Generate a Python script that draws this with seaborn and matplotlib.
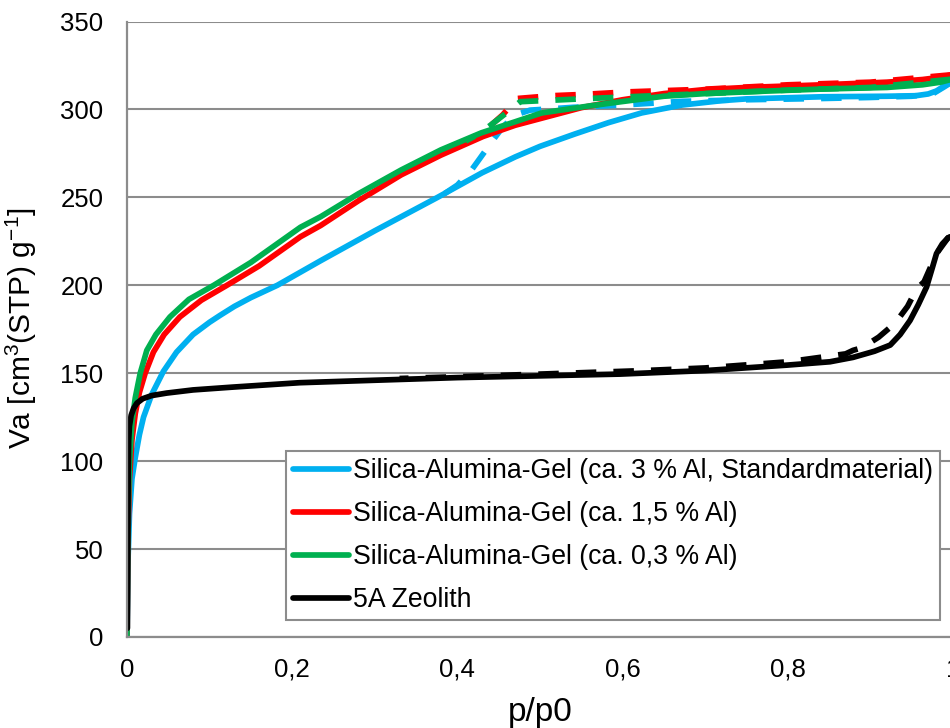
import matplotlib
matplotlib.use("Agg")
import matplotlib.pyplot as plt
from matplotlib.lines import Line2D
import pandas as pd
import seaborn as sns

# ---- isotherm data (p/p0, adsorbed volume) ----
# Silica-Alumina-Gel, ca. 3 % Al (standard material)
al3_ads_x = [0.0, 0.001, 0.003, 0.006, 0.01, 0.015, 0.02, 0.03, 0.044, 0.06, 0.08, 0.1,
             0.113, 0.13, 0.15, 0.182, 0.2345, 0.3, 0.376, 0.43, 0.47, 0.5, 0.542, 0.583,
             0.623, 0.672, 0.72, 0.75, 0.842, 0.92, 0.955, 0.97, 0.98, 0.99, 1.0]
al3_ads_y = [0, 40, 70, 90, 102, 115, 125, 138, 151, 162, 172, 179,
             183, 188, 193, 200, 214, 231, 250, 264, 273, 279, 286, 292.5,
             298, 302.5, 305, 306, 307.2, 307.5, 307.8, 308.8, 310.5, 313.5, 316]
al3_des_x = [1.0, 0.99, 0.976, 0.95, 0.9, 0.84, 0.75, 0.672, 0.6, 0.54, 0.512, 0.488,
             0.47, 0.455, 0.443, 0.427, 0.417, 0.40, 0.384]
al3_des_y = [316, 313, 309, 307.5, 306.8, 306.2, 305.5, 304.6, 302.5, 301.2, 300.3, 299.6,
             296.8, 290, 282.5, 272, 265.5, 257, 252]

# Silica-Alumina-Gel, ca. 1,5 % Al
al15_ads_x = [0.0, 0.001, 0.003, 0.006, 0.01, 0.015, 0.022, 0.032, 0.045, 0.064, 0.09,
              0.121, 0.16, 0.21, 0.2345, 0.28, 0.332, 0.38, 0.431, 0.47, 0.502, 0.55, 0.6,
              0.65, 0.7, 0.75, 0.842, 0.92, 0.963, 0.985, 1.0]
al15_ads_y = [0, 55, 90, 112, 127, 139, 150, 162, 172, 182, 191.5,
              200, 211, 227.6, 234, 248, 262.8, 274, 284.6, 291, 295, 301, 305.5,
              309, 311.3, 312.5, 314, 315.5, 317, 318.3, 319.8]
al15_des_x = [1.0, 0.9, 0.8, 0.7, 0.607, 0.55, 0.514, 0.472, 0.455, 0.431, 0.42]
al15_des_y = [319.8, 315.5, 314, 311.5, 310, 308.5, 307.8, 306.2, 297, 287, 284]

# Silica-Alumina-Gel, ca. 0,3 % Al
al03_ads_x = [0.0, 0.001, 0.003, 0.006, 0.01, 0.016, 0.024, 0.035, 0.052, 0.075, 0.105,
              0.15, 0.21, 0.2345, 0.28, 0.332, 0.38, 0.429, 0.47, 0.502, 0.56, 0.6, 0.65,
              0.7, 0.75, 0.842, 0.92, 0.963, 0.985, 1.0]
al03_ads_y = [0, 65, 100, 122, 136, 150, 163, 172, 182, 192, 200,
              213, 233, 239, 252, 265.6, 277, 286.7, 293, 298, 302, 304.5, 307.5,
              309, 310, 311.6, 312.5, 314, 315.5, 317.3]
al03_des_x = [1.0, 0.9, 0.8, 0.7, 0.607, 0.55, 0.476, 0.462, 0.44, 0.4235, 0.41]
al03_des_y = [317.3, 312.5, 311, 309, 307.2, 306, 304.4, 299, 291, 285.4, 282]

# 5A Zeolith
zeo_ads_x = [0.0005, 0.001, 0.0015, 0.002, 0.003, 0.005, 0.008, 0.012, 0.019, 0.03, 0.048,
             0.08, 0.128, 0.209, 0.3, 0.4, 0.5, 0.597, 0.7, 0.799, 0.851, 0.879, 0.905,
             0.924, 0.936, 0.948, 0.958, 0.968, 0.975, 0.98, 0.987, 0.994, 1.0]
zeo_ads_y = [5, 60, 95, 112, 120, 126, 130, 133, 135.5, 137.3, 138.7,
             140.5, 142.1, 144.6, 146, 147.5, 148.5, 149.5, 151.5, 154.6, 156.5, 159, 162.5,
             166, 172, 180, 189, 199, 210, 218, 223.5, 227, 228]
zeo_des_x = [1.0, 0.994, 0.98, 0.965, 0.956, 0.945, 0.93, 0.91, 0.89, 0.879, 0.87, 0.8,
             0.7, 0.62, 0.5, 0.4, 0.33]
zeo_des_y = [228, 227, 218, 202, 198, 188, 178.5, 170.5, 164.5, 163, 161, 156.5,
             153, 151.4, 149.5, 148, 147]

labels = ["Silica-Alumina-Gel (ca. 3 % Al, Standardmaterial)",
          "Silica-Alumina-Gel (ca. 1,5 % Al)",
          "Silica-Alumina-Gel (ca. 0,3 % Al)",
          "5A Zeolith"]
colors = ["#00B0F0", "#FF0000", "#00B050", "#000000"]

x_ticks = [0, 0.2, 0.4, 0.6, 0.8, 1.0]
x_tick_labels = ["0", "0,2", "0,4", "0,6", "0,8", "1"]
y_ticks = [0, 50, 100, 150, 200, 250, 300, 350]

series = [
    (al3_ads_x, al3_ads_y, al3_des_x, al3_des_y),
    (al15_ads_x, al15_ads_y, al15_des_x, al15_des_y),
    (al03_ads_x, al03_ads_y, al03_des_x, al03_des_y),
    (zeo_ads_x, zeo_ads_y, zeo_des_x, zeo_des_y),
]

sns.set_theme(style="white")
plt.rcParams["font.family"] = ["Liberation Sans", "DejaVu Sans"]
plt.rcParams["text.color"] = "black"
plt.rcParams["mathtext.fontset"] = "custom"
plt.rcParams["mathtext.rm"] = "Liberation Sans"
plt.rcParams["mathtext.it"] = "Liberation Sans:italic"

fig = plt.figure(figsize=(9.5, 7.28), dpi=100)
ax = fig.add_axes([127 / 950, 91 / 728, 826 / 950, 615.5 / 728])

lw = 4.1
for (ads_x, ads_y, dx, dy), col in zip(series, colors):
    ads = pd.DataFrame({"p": ads_x, "V": ads_y})
    des = pd.DataFrame({"p": dx, "V": dy})
    # desorption branch (dashed)
    sns.lineplot(data=des, x="p", y="V", sort=False, estimator=None, color=col,
                 linewidth=lw, ax=ax, legend=False)
    ln = ax.lines[-1]
    ln.set_dashes((3.6, 3.0))
    ln.set_dash_capstyle("butt")
    ln.set_dash_joinstyle("round")
    # adsorption branch (solid)
    sns.lineplot(data=ads, x="p", y="V", sort=False, estimator=None, color=col,
                 linewidth=lw, ax=ax, legend=False)
    ln = ax.lines[-1]
    ln.set_solid_capstyle("round")
    ln.set_solid_joinstyle("round")

ax.set_xlim(0, 1)
ax.set_ylim(0, 350)
ax.set_xticks(x_ticks)
ax.set_xticklabels(x_tick_labels)
ax.set_yticks(y_ticks)
ax.tick_params(axis="both", length=0, labelsize=18.5, colors="black")
ax.tick_params(axis="x", pad=15)
ax.tick_params(axis="y", pad=17)

grid_col = "#8C8C8C"
ax.yaxis.grid(True, color=grid_col, linewidth=1.5)
ax.xaxis.grid(False)
for side in ["top", "right"]:
    ax.spines[side].set_visible(False)
for side in ["left", "bottom"]:
    ax.spines[side].set_color(grid_col)
    ax.spines[side].set_linewidth(1.6)

ax.set_xlabel("")
ax.set_ylabel("")
fig.text(540 / 950, 1 - 712 / 728, "p/p0", fontsize=24, color="black",
         ha="center", va="center")
fig.text(21 / 950, 1 - 328 / 728, "Va [cm$^{3}$(STP) g$^{-1}$]", fontsize=21.5,
         color="black", ha="center", va="center", rotation=90)

handles = [Line2D([0], [0], color=c, linewidth=lw) for c in colors]
leg = ax.legend(handles, labels, loc="upper left", bbox_to_anchor=(0.1925, 0.302),
                borderaxespad=0, fontsize=19.2, frameon=True, fancybox=False,
                framealpha=1, edgecolor=grid_col, handlelength=2.1,
                handletextpad=0.15, labelspacing=0.64, borderpad=0.26,
                labelcolor="black")
leg.get_frame().set_linewidth(1.5)

fig.savefig("out.png", dpi=100)
